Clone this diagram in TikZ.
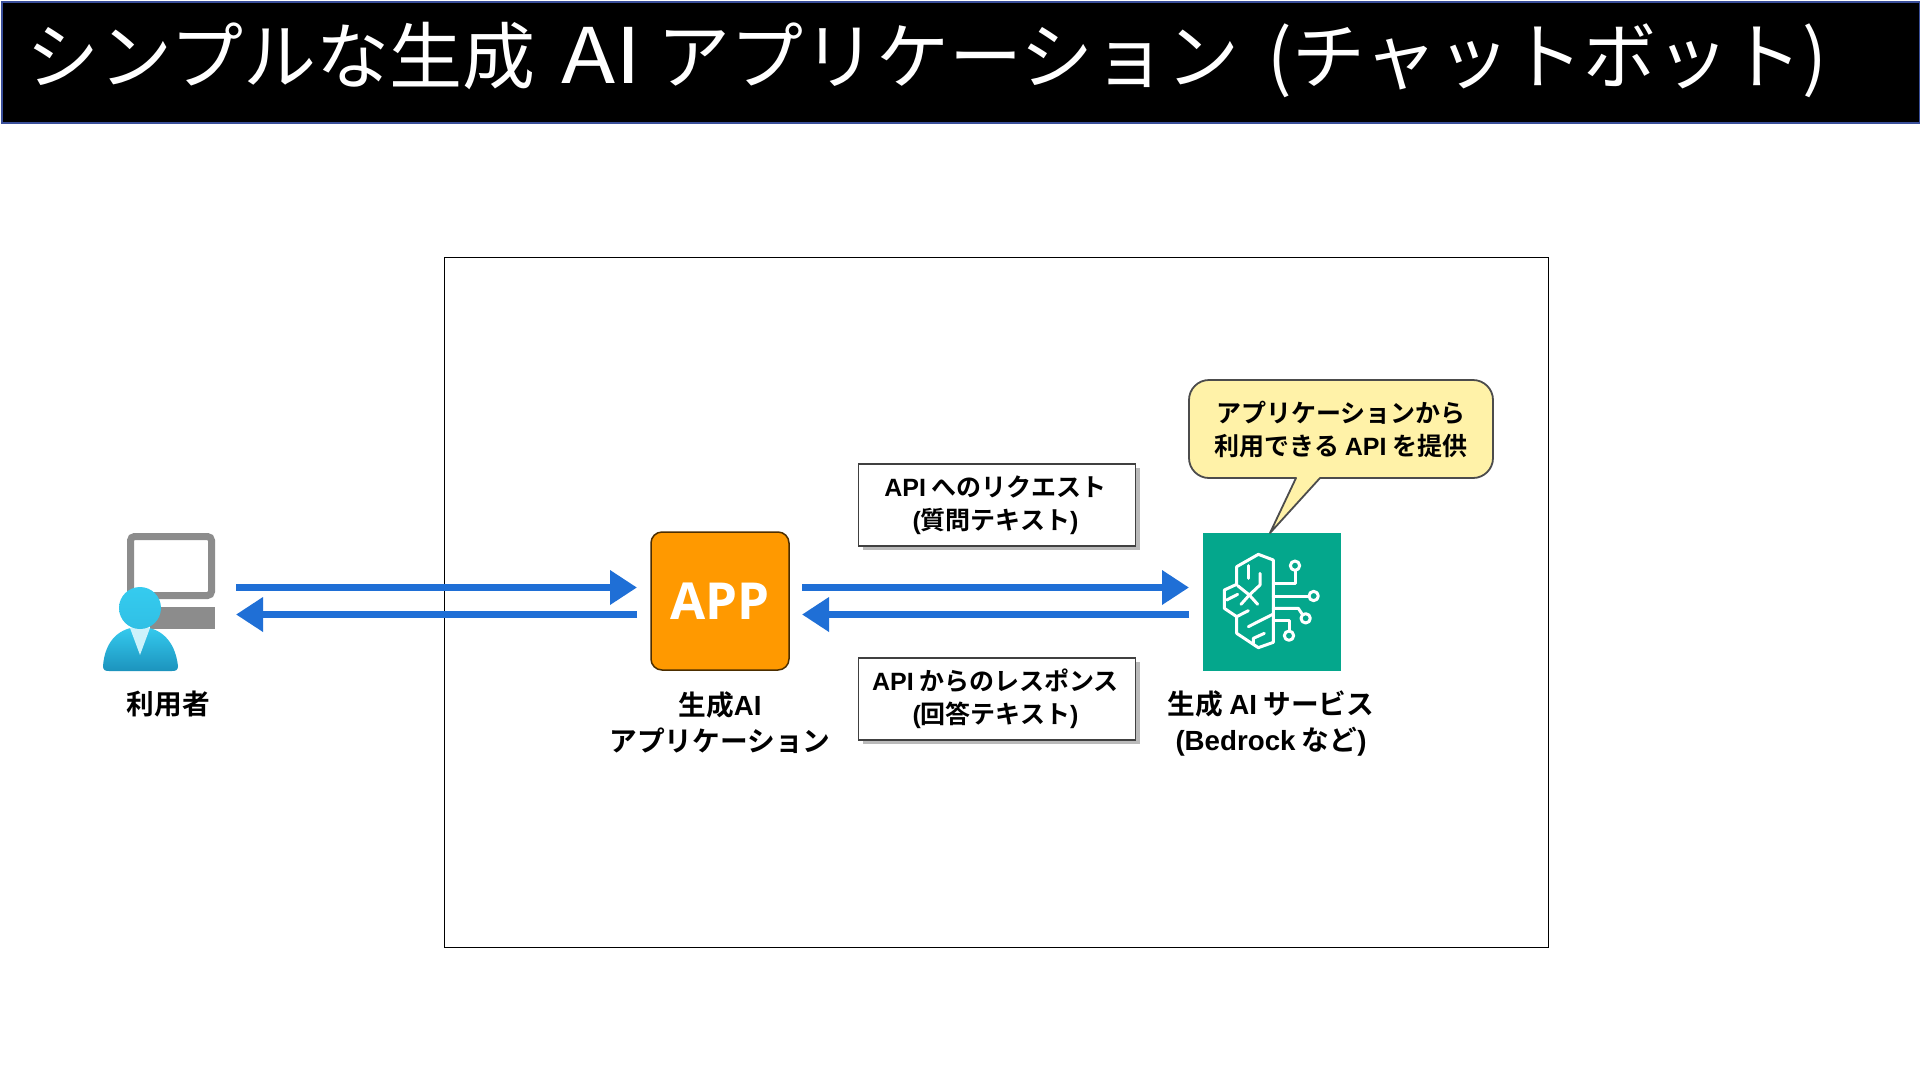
\documentclass[tikz,border=0pt]{standalone}
\usepackage{fontspec}
\usetikzlibrary{arrows.meta,shadows,positioning}
\setmainfont{Noto Sans CJK JP}
\newfontfamily\jpb{Noto Sans CJK JP Bold}
\newfontfamily\lab{Liberation Sans}[BoldFont=* Bold]
\newfontfamily\appf{Open Sans}
\newcommand{\LA}[1]{{\lab\bfseries #1}}
\definecolor{flow}{HTML}{1F6FD6}
\definecolor{svc}{HTML}{04A78C}
\definecolor{appo}{HTML}{FF9900}
\definecolor{callf}{HTML}{FFF2A8}
\definecolor{barb}{HTML}{3A4F9A}
\definecolor{mon}{HTML}{8C8C8C}
\definecolor{ptop}{HTML}{35CBEF}
\definecolor{pbot}{HTML}{1C93BD}
\tikzset{
 flowarrow/.style={draw=flow,line width=7pt,-{Triangle[length=27pt,width=33pt,fill=flow]}},
 lbl/.style={font=\jpb\fontsize{27.7}{36}\selectfont,align=center,text=black,inner sep=0pt},
 msgbox/.style={draw=black!75,line width=1.2pt,fill=white,minimum width=277pt,minimum height=82pt,inner sep=0pt,align=center,font=\jpb\fontsize{25}{33}\selectfont,drop shadow={shadow xshift=4pt,shadow yshift=-4pt,fill=black!45,opacity=.6}},
 wire/.style={draw=white,line width=3pt,line join=round,line cap=round},
}
\begin{document}
\begin{tikzpicture}[x=1pt,y=-1pt]
\useasboundingbox (0,0) rectangle (1920,1080);
\fill[white] (0,0) rectangle (1920,1080);
% title
\node[draw=barb,line width=2pt,fill=black,minimum width=1918pt,minimum height=121pt,anchor=north west,inner sep=0pt] (bar) at (1,1) {};
\node[anchor=west,text=white,inner sep=0pt,font=\fontsize{73}{80}\selectfont] (title) at (26,60) {シンプルな生成\hspace{.365em}\scalebox{1.22}[1.05]{AI}\hspace{.21em}アプリケーション\hspace{.38em}(チャットボット)};
% frame
\node[draw=black,line width=1.2pt,minimum width=1104pt,minimum height=690pt,anchor=north west,inner sep=0pt] (frame) at (444,257) {};
% user icon
\coordinate (user) at (171,600);
\draw[mon,line width=7pt,rounded corners=4pt] (130.5,536.5) rectangle (211.5,595.5);
\fill[mon] (150,607) rectangle (215,629);
\shade[top color=ptop,bottom color=pbot] (103,666) .. controls (105,640) and (120,627) .. (140,627) .. controls (160,627) and (175,640) .. (178,666) .. controls (178,670) and (176,671) .. (172,671) -- (109,671) .. controls (105,671) and (103,670) .. (103,666) -- cycle;
\fill[white!75!ptop] (130,628) -- (150,628) -- (140,655) -- cycle;
\shade[top color=ptop,bottom color=ptop!80!pbot] (140,608) circle (21pt);
\node[lbl] (userlbl) at (168.5,704) {利用者};
% app
\node[draw=black!70!appo,line width=1.5pt,fill=appo,rounded corners=11pt,minimum width=138pt,minimum height=138pt,inner sep=0pt,text=white,font=\appf\bfseries\fontsize{51}{51}\selectfont] (app) at (720,601) {APP};
\node[lbl] (applbl) at (720,723) {生成\LA{AI}\\アプリケーション};
% service
\node[fill=svc,minimum width=138pt,minimum height=138pt,inner sep=0pt] (service) at (1272,602) {};
\begin{scope}[shift={(1215,545)},x=0.3333pt,y=-0.3333pt]
\draw[wire] (175,45) -- (130,28) -- (65,65) -- (65,118) -- (28,135) -- (28,190) -- (65,215) -- (65,265) -- (130,308) -- (175,292) -- cycle;
\draw[wire] (100,62) -- (100,100);
\draw[wire] (135,85) -- (135,120) -- (103,150) -- (68,122);
\draw[wire] (35,165) -- (68,148);
\draw[wire] (103,150) -- (128,178);
\draw[wire] (103,150) -- (78,178);
\draw[wire] (65,215) -- (100,197);
\draw[wire] (100,245) -- (175,207);
\draw[wire] (115,295) -- (115,280) -- (148,265);
\draw[wire] (175,115) -- (240,115) -- (240,78);
\draw[wire] (240,62) circle (14);
\draw[wire] (175,153) -- (280,153);
\draw[wire] (296,153) circle (14);
\draw[wire] (175,190) -- (250,190) -- (262,208);
\draw[wire] (272,220) circle (14);
\draw[wire] (175,225) -- (222,225) -- (222,258);
\draw[wire] (222,272) circle (14);
\end{scope}
\node[lbl] (svclbl) at (1271,723) {生成 \LA{AI} サービス\\\LA{(Bedrock} など\LA{)}};
% callout
\coordinate (calltip) at (1270,533);
\draw[draw=black!70,line width=1.8pt,fill=callf,line join=round]
 (1296,478) [rounded corners=20pt] -- (1250,478) -- (1189,478) -- (1189,380) -- (1493,380) -- (1493,478) -- (1400,478) [sharp corners] -- (1320,478) -- (calltip) -- cycle;
\node[inner sep=0pt,align=center,font=\jpb\fontsize{25}{33}\selectfont] (calltext) at (1341,429.5) {アプリケーションから\\利用できる \LA{API} を提供};
% messages
\node[msgbox] (req) at (997,505) {\LA{API} へのリクエスト\hspace*{3pt}\\\LA{(}質問テキスト\LA{)}\hspace*{3pt}};
\node[msgbox] (res) at (997,699) {\LA{API} からのレスポンス\hspace*{3pt}\\\LA{(}回答テキスト\LA{)}\hspace*{3pt}};
% arrows
\coordinate (a1) at (236,587.5); \coordinate (a2) at (637,587.5);
\coordinate (a3) at (637,614.5); \coordinate (a4) at (236,614.5);
\coordinate (b1) at (802,587.5); \coordinate (b2) at (1189,587.5);
\coordinate (b3) at (1189,614.5); \coordinate (b4) at (802,614.5);
\draw[flowarrow] (a1) -- (a2);
\draw[flowarrow] (a3) -- (a4);
\draw[flowarrow] (b1) -- (b2);
\draw[flowarrow] (b3) -- (b4);
\end{tikzpicture}
\end{document}
